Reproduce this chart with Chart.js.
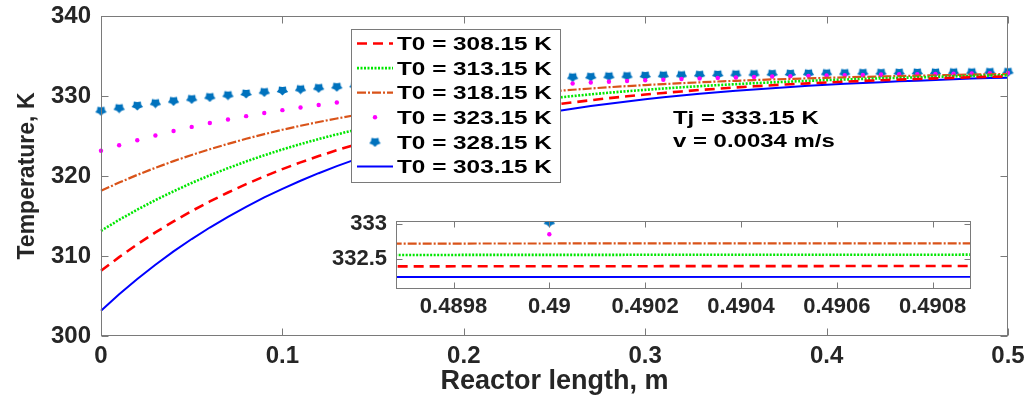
<!DOCTYPE html>
<html>
<head>
<meta charset="utf-8">
<script src="https://cdn.jsdelivr.net/npm/chart.js@4.4.1/dist/chart.umd.min.js"></script>
<style>
  html, body { margin: 0; padding: 0; background: #fff; }
  #wrap { position: relative; width: 1034px; height: 402px; }
  #main { position: absolute; left: 0; top: 0; }
  #inset { position: absolute; left: 330px; top: 205px; }
</style>
</head>
<body>
<div id="wrap">
  <canvas id="main" width="1034" height="402"></canvas>
  <canvas id="inset" width="660" height="115"></canvas>
</div>
<script>
// reactor length positions, m
var xs = [0, 0.01, 0.02, 0.03, 0.04, 0.05, 0.06, 0.07, 0.08, 0.09,
  0.1, 0.11, 0.12, 0.13, 0.14, 0.15, 0.16, 0.17, 0.18, 0.19,
  0.2, 0.21, 0.22, 0.23, 0.24, 0.25, 0.26, 0.27, 0.28, 0.29,
  0.3, 0.31, 0.32, 0.33, 0.34, 0.35, 0.36, 0.37, 0.38, 0.39,
  0.4, 0.41, 0.42, 0.43, 0.44, 0.45, 0.46, 0.47, 0.48, 0.49, 0.5];

var seriesNames = ['T0 = 308.15 K', 'T0 = 313.15 K', 'T0 = 318.15 K',
  'T0 = 323.15 K', 'T0 = 328.15 K', 'T0 = 303.15 K'];

// temperature, K
var t308 = [308.15, 309.86, 311.46, 312.95, 314.33, 315.62, 316.82, 317.94, 318.98, 319.95,
  320.86, 321.70, 322.49, 323.22, 323.90, 324.53, 325.12, 325.67, 326.19, 326.66,
  327.11, 327.52, 327.91, 328.27, 328.60, 328.91, 329.20, 329.47, 329.73, 329.96,
  330.18, 330.38, 330.57, 330.75, 330.91, 331.07, 331.21, 331.34, 331.47, 331.58,
  331.69, 331.79, 331.88, 331.97, 332.05, 332.13, 332.20, 332.27, 332.34, 332.40, 332.44];
var t313 = [313.15, 314.52, 315.80, 316.99, 318.09, 319.13, 320.09, 320.98, 321.82, 322.59,
  323.32, 323.99, 324.62, 325.20, 325.75, 326.26, 326.73, 327.17, 327.58, 327.96,
  328.32, 328.65, 328.96, 329.24, 329.51, 329.76, 329.99, 330.21, 330.41, 330.60,
  330.77, 330.94, 331.09, 331.23, 331.36, 331.48, 331.60, 331.70, 331.80, 331.90,
  331.98, 332.06, 332.14, 332.21, 332.27, 332.33, 332.39, 332.45, 332.51, 332.56, 332.59];
var t318 = [318.15, 319.18, 320.14, 321.03, 321.86, 322.63, 323.35, 324.02, 324.65, 325.23,
  325.78, 326.28, 326.75, 327.19, 327.60, 327.98, 328.33, 328.66, 328.97, 329.26,
  329.52, 329.77, 330.00, 330.22, 330.42, 330.61, 330.78, 330.94, 331.10, 331.24,
  331.37, 331.49, 331.60, 331.71, 331.81, 331.90, 331.99, 332.07, 332.14, 332.21,
  332.27, 332.33, 332.39, 332.44, 332.49, 332.54, 332.59, 332.63, 332.68, 332.72, 332.74];
var t323 = [323.15, 323.84, 324.47, 325.07, 325.62, 326.14, 326.62, 327.07, 327.48, 327.87,
  328.23, 328.57, 328.88, 329.18, 329.45, 329.70, 329.94, 330.16, 330.36, 330.56,
  330.73, 330.90, 331.05, 331.20, 331.33, 331.46, 331.57, 331.68, 331.78, 331.87,
  331.96, 332.04, 332.12, 332.19, 332.26, 332.32, 332.37, 332.43, 332.48, 332.52,
  332.57, 332.61, 332.64, 332.68, 332.71, 332.74, 332.77, 332.80, 332.83, 332.85, 332.87];
var t328 = [328.15, 328.49, 328.81, 329.11, 329.39, 329.64, 329.88, 330.11, 330.32, 330.51,
  330.69, 330.86, 331.02, 331.16, 331.30, 331.43, 331.54, 331.65, 331.76, 331.85,
  331.94, 332.02, 332.10, 332.17, 332.24, 332.30, 332.36, 332.42, 332.47, 332.51,
  332.56, 332.60, 332.63, 332.67, 332.70, 332.73, 332.76, 332.79, 332.81, 332.84,
  332.86, 332.88, 332.90, 332.91, 332.93, 332.95, 332.96, 332.98, 332.99, 333.02, 333.03];
var t303 = [303.15, 305.21, 307.12, 308.91, 310.57, 312.12, 313.56, 314.90, 316.15, 317.32,
  318.40, 319.41, 320.35, 321.23, 322.05, 322.81, 323.52, 324.18, 324.79, 325.37,
  325.90, 326.40, 326.86, 327.29, 327.69, 328.07, 328.41, 328.74, 329.04, 329.32,
  329.58, 329.83, 330.06, 330.27, 330.47, 330.65, 330.82, 330.98, 331.13, 331.27,
  331.40, 331.52, 331.63, 331.73, 331.83, 331.92, 332.00, 332.10, 332.18, 332.25, 332.29];

var notes = ['Tj = 333.15 K', 'v = 0.0034 m/s'];

var xTicks = [0, 0.1, 0.2, 0.3, 0.4, 0.5];
var yTicks = [300, 310, 320, 330, 340];
var insetXTicks = [0.4898, 0.49, 0.4902, 0.4904, 0.4906, 0.4908];
var insetYTicks = [332.5, 333];

Chart.defaults.font.family = "'Liberation Sans', Arial, sans-serif";
Chart.defaults.font.weight = 'bold';
Chart.defaults.color = '#262626';

var FONT = "'Liberation Sans', Arial, sans-serif";

// chunky filled marker, wide at the top and pointed below
function makeMarker() {
  var c = document.createElement('canvas');
  c.width = 13; c.height = 11;
  var g = c.getContext('2d');
  g.fillStyle = '#0072bd';
  g.beginPath();
  for (var i = 0; i < 10; i++) {
    var r = i % 2 ? 3.4 : 5.0;
    var a = Math.PI / 2 + i * Math.PI / 5;
    g.lineTo(6.5 + 1.2 * r * Math.cos(a), 5.5 + r * Math.sin(a));
  }
  g.closePath();
  g.fill();
  return c;
}
var marker = makeMarker();

function pts(vals) {
  return xs.map(function (x, i) { return { x: x, y: vals[i] }; });
}

function makeSets() {
  return [
    { label: seriesNames[0], data: pts(t308), borderColor: '#ff0000', borderWidth: 2.6, borderDash: [10, 6], pointRadius: 0 },
    { label: seriesNames[1], data: pts(t313), borderColor: '#00e600', borderWidth: 2.6, borderDash: [2, 1.5], pointRadius: 0 },
    { label: seriesNames[2], data: pts(t318), borderColor: '#d95319', borderWidth: 2.2, borderDash: [9, 2, 2, 2], pointRadius: 0 },
    { label: seriesNames[3], data: pts(t323), showLine: false, borderColor: '#ff00ff', pointStyle: 'circle', pointRadius: 2.2, pointBackgroundColor: '#ff00ff', pointBorderWidth: 0 },
    { label: seriesNames[4], data: pts(t328), showLine: false, borderColor: '#0072bd', pointStyle: marker, pointRadius: 6 },
    { label: seriesNames[5], data: pts(t303), borderColor: '#0000ff', borderWidth: 2, pointRadius: 0 }
  ];
}

// MATLAB-like box with inward ticks on all four sides
var boxPlugin = {
  id: 'box',
  afterDatasetsDraw: function (chart, args, opts) {
    var ctx = chart.ctx, a = chart.chartArea;
    var x = chart.scales.x, y = chart.scales.y;
    var len = opts.tick || 7;
    ctx.save();
    ctx.setLineDash([]);
    ctx.strokeStyle = '#7a7a7a';
    ctx.lineWidth = 1;
    var l = Math.round(a.left) + 0.5, r = Math.round(a.right) - 0.5;
    var t = Math.round(a.top) + 0.5, b = Math.round(a.bottom) - 0.5;
    ctx.strokeRect(l, t, r - l, b - t);
    ctx.beginPath();
    x.ticks.forEach(function (tk) {
      var px = Math.round(x.getPixelForValue(tk.value)) + 0.5;
      ctx.moveTo(px, b); ctx.lineTo(px, b - len);
      ctx.moveTo(px, t); ctx.lineTo(px, t + len);
    });
    y.ticks.forEach(function (tk) {
      var py = Math.round(y.getPixelForValue(tk.value)) + 0.5;
      ctx.moveTo(l, py); ctx.lineTo(l + len, py);
      ctx.moveTo(r, py); ctx.lineTo(r - len, py);
    });
    ctx.stroke();
    ctx.restore();
  }
};

// legend box and the two notes, text a little widened like the original
var legendPlugin = {
  id: 'boxLegend',
  afterDraw: function (chart) {
    var ctx = chart.ctx;
    var bx = 351, by = 29, bw = 209, bh = 153;
    ctx.save();
    ctx.fillStyle = '#fff';
    ctx.fillRect(bx, by, bw, bh);
    ctx.strokeStyle = '#7a7a7a';
    ctx.lineWidth = 1;
    ctx.strokeRect(bx + 0.5, by + 0.5, bw, bh);

    ctx.font = 'bold 19px ' + FONT;
    ctx.textBaseline = 'alphabetic';
    chart.data.datasets.forEach(function (ds, i) {
      var cy = 43.5 + i * 24.6;
      if (ds.showLine === false) {
        if (ds.pointStyle === 'circle') {
          ctx.fillStyle = ds.pointBackgroundColor;
          ctx.beginPath();
          ctx.arc(375, cy, ds.pointRadius, 0, Math.PI * 2);
          ctx.fill();
        } else {
          ctx.drawImage(ds.pointStyle, 375 - ds.pointStyle.width / 2, cy - ds.pointStyle.height / 2);
        }
      } else {
        ctx.setLineDash(ds.borderDash || []);
        ctx.strokeStyle = ds.borderColor;
        ctx.lineWidth = ds.borderWidth;
        ctx.beginPath();
        ctx.moveTo(357, cy);
        ctx.lineTo(393, cy);
        ctx.stroke();
        ctx.setLineDash([]);
      }
      ctx.fillStyle = '#000';
      ctx.save();
      ctx.translate(397, cy + 6.7);
      ctx.scale(1.28, 1);
      ctx.fillText(ds.label, 0, 0);
      ctx.restore();
    });

    notes.forEach(function (txt, i) {
      ctx.fillStyle = '#000';
      ctx.save();
      ctx.translate(673, 124 + i * 23);
      ctx.scale(1.26, 1);
      ctx.fillText(txt, 0, 0);
      ctx.restore();
    });
    ctx.restore();
  }
};

function fixTicks(list) {
  return function (s) { s.ticks = list.map(function (v) { return { value: v }; }); };
}

// fixed axis boxes; drop the label overflow padding so layout.padding rules
function fixWidth(w) {
  return function (s) { s.width = w; s.paddingTop = 0; s.paddingBottom = 0; };
}
function fixHeight(h) {
  return function (s) { s.height = h; s.paddingLeft = 0; s.paddingRight = 0; };
}

var mainChart = new Chart(document.getElementById('main'), {
  type: 'line',
  data: { datasets: makeSets() },
  options: {
    responsive: false,
    animation: false,
    devicePixelRatio: 1,
    events: [],
    layout: { padding: { top: 16, right: 26, bottom: 0, left: 0 } },
    datasets: { line: { clip: false } },
    scales: {
      x: {
        type: 'linear', min: 0, max: 0.5,
        afterBuildTicks: fixTicks(xTicks),
        afterFit: fixHeight(66),
        grid: { display: false, drawTicks: false },
        border: { display: false },
        ticks: { padding: 6, maxRotation: 0, autoSkip: false, font: { size: 24, weight: 'bold' },
          callback: function (v) { return String(v); } },
        title: { display: true, text: 'Reactor length, m', font: { size: 27, weight: 'bold' },
          padding: { top: 0, bottom: 4 } }
      },
      y: {
        type: 'linear', min: 300, max: 340,
        afterBuildTicks: fixTicks(yTicks),
        afterFit: fixWidth(101),
        grid: { display: false, drawTicks: false },
        border: { display: false },
        ticks: { padding: 10, autoSkip: false, font: { size: 24, weight: 'bold' },
          callback: function (v) { return String(v); } },
        title: { display: true, text: 'Temperature, K', font: { size: 23, weight: 'bold' },
          padding: { top: 14, bottom: 0 } }
      }
    },
    plugins: {
      legend: { display: false },
      tooltip: { enabled: false },
      box: { tick: 7 }
    }
  },
  plugins: [boxPlugin, legendPlugin]
});

var insetChart = new Chart(document.getElementById('inset'), {
  type: 'line',
  data: { datasets: makeSets() },
  options: {
    responsive: false,
    animation: false,
    devicePixelRatio: 1,
    events: [],
    layout: { padding: { top: 16, right: 19, bottom: 0, left: 0 } },
    scales: {
      x: {
        type: 'linear', min: 0.48968, max: 0.49088,
        afterBuildTicks: fixTicks(insetXTicks),
        afterFit: fixHeight(31),
        grid: { display: false, drawTicks: false },
        border: { display: false },
        ticks: { padding: 5, maxRotation: 0, autoSkip: false, font: { size: 22, weight: 'bold' },
          callback: function (v) { return String(v); } }
      },
      y: {
        type: 'linear', min: 332.08, max: 333.036,
        afterBuildTicks: fixTicks(insetYTicks),
        afterFit: fixWidth(66),
        grid: { display: false, drawTicks: false },
        border: { display: false },
        ticks: { padding: 9, autoSkip: false, font: { size: 22, weight: 'bold' },
          callback: function (v) { return String(v); } }
      }
    },
    plugins: {
      legend: { display: false },
      tooltip: { enabled: false },
      box: { tick: 6 }
    }
  },
  plugins: [boxPlugin]
});
</script>
</body>
</html>
